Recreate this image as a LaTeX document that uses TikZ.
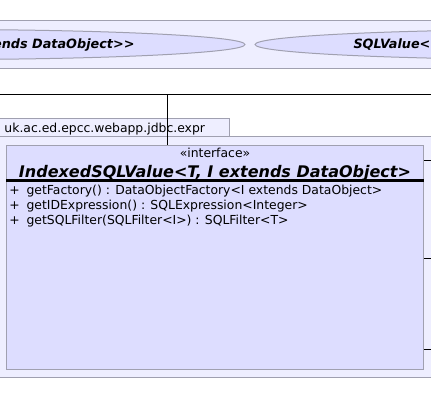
\documentclass[tikz,border=0pt]{standalone}
\usepackage{fontspec}
\setmainfont{DejaVu Sans}

\tikzset{every picture/.style={line width=0.75pt}}
\tikzset{
  pkgshape/.style={draw={rgb, 255:red, 160; green, 160; blue, 176}, fill={rgb, 255:red, 238; green, 238; blue, 255}},
  ellshape/.style={draw={rgb, 255:red, 160; green, 160; blue, 176}, fill={rgb, 255:red, 221; green, 221; blue, 255}},
  classbox/.style={draw={rgb, 255:red, 160; green, 160; blue, 176}, fill={rgb, 255:red, 221; green, 221; blue, 255}, rectangle, inner sep=0pt},
  boldlabel/.style={inner sep=0pt, font=\fontsize{12}{14}\selectfont\bfseries\itshape},
  ellabel/.style={inner sep=0pt, font=\fontsize{9.6}{11}\selectfont\bfseries\itshape},
  opline/.style={anchor=base west, inner sep=0pt, font=\fontsize{9.3}{11}\selectfont},
}

\begin{document}
\begin{tikzpicture}[x=0.75pt,y=0.75pt,yscale=-1,xscale=1]
\useasboundingbox (0,0) rectangle (431,415);
\clip (0,0) rectangle (431,415);

%Shape: Rectangle [id:top band]
\draw [pkgshape] (-5,20.5) rectangle (436,68.5) ;
%Shape: Ellipse [id:left usecase]
\draw [ellshape] (-60,44.5) ellipse [x radius=305, y radius=15] ;
%Shape: Ellipse [id:right usecase]
\draw [ellshape] (560,44.5) ellipse [x radius=305, y radius=15] ;
% Text Node
\node [ellabel, anchor=base east] (leftname) at (135,48.5) {ends DataObject>{}>};
% Text Node
\node [ellabel, anchor=base west] (rightname) at (353,48.5) {SQLValue<};

%Shape: Rectangle [id:package tab]
\draw [pkgshape] (-5,118.5) rectangle (229.5,136.5) ;
%Shape: Rectangle [id:package body]
\draw [pkgshape] (-5,136.5) rectangle (436,377) ;
% Text Node
\node [opline] (pkgname) at (4,132) {uk.ac.ed.epcc.webapp.jdbc.expr};

%Shape: Rectangle [id:interface]
\node [classbox, minimum width=312.75pt, minimum height=168pt] (cls) at (215,257.5) {};
% Text Node
\node [anchor=base, inner sep=0pt, font=\fontsize{9.3}{11}\selectfont] (stereo) at (215,157.5) {«interface»};
% Text Node
\node [boldlabel, anchor=base] (clsname) at (215,177) {IndexedSQLValue<T, I extends DataObject>};
%Straight Lines [id:separator]
\draw [line width=1.7pt] (cls.west |- 0,180.5) -- (cls.east |- 0,180.5) ;
% Text Node
\node [opline] (op1) at (9,194.7) {+\hspace{5pt}getFactory() : DataObjectFactory<I extends DataObject>};
% Text Node
\node [opline] (op2) at (9,209.7) {+\hspace{5pt}getIDExpression() : SQLExpression<Integer>};
% Text Node
\node [opline] (op3) at (9,224.7) {+\hspace{5pt}getSQLFilter(SQLFilter<I>) : SQLFilter<T>};

%Straight Lines [id:bus]
\coordinate (busL) at (-5,94.5);
\coordinate (busR) at (436,94.5);
\coordinate (bend) at (167.5,94.5);
\draw (busL) -- (busR) ;
\draw (bend) -- (bend |- cls.north) ;
%Straight Lines [id:stubs]
\coordinate (out1) at (436,160.5);
\coordinate (out2) at (436,258.5);
\coordinate (out3) at (436,349.5);
\draw (cls.east |- out1) -- (out1) ;
\draw (cls.east |- out2) -- (out2) ;
\draw (cls.east |- out3) -- (out3) ;

\end{tikzpicture}
\end{document}
